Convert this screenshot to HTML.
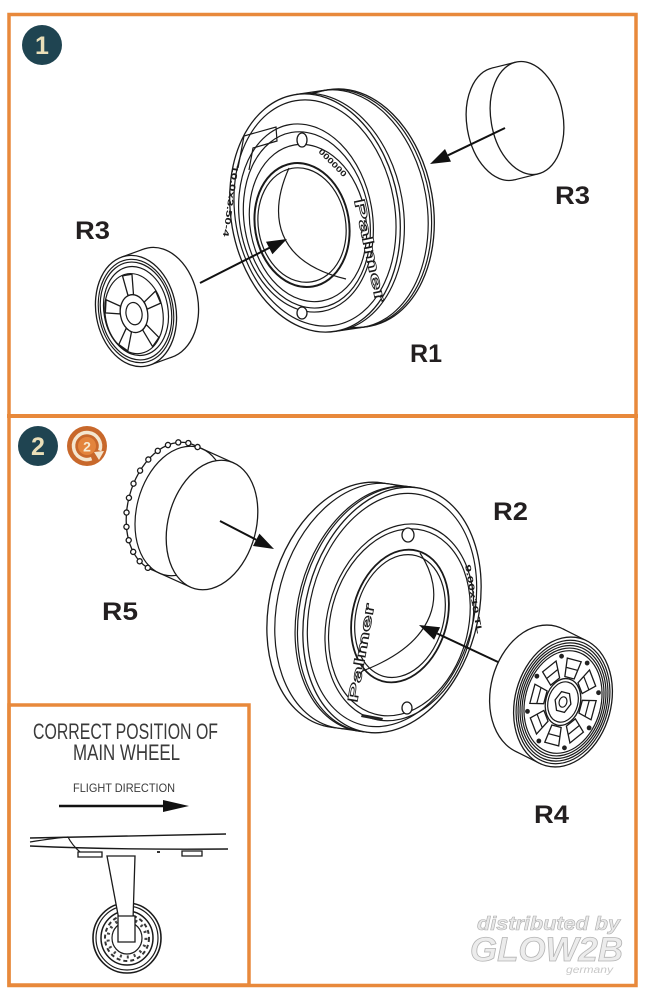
<!DOCTYPE html>
<html><head><meta charset="utf-8">
<style>
html,body{margin:0;padding:0;background:#fff;}
body{width:649px;height:1000px;overflow:hidden;}
svg{display:block;}
.l{fill:none;stroke:#1a1a1a;stroke-width:1.2;vector-effect:non-scaling-stroke}
.w{fill:#fff;stroke:#1a1a1a;stroke-width:1.3;vector-effect:non-scaling-stroke}
.h{fill:#fff;stroke:none}
.lb{font-family:"Liberation Sans",sans-serif;font-weight:bold;font-size:25px;fill:#231f20}
.t{font-family:"Liberation Sans",sans-serif;fill:#3a3a3a}
</style></head><body>
<svg width="649" height="1000" viewBox="0 0 649 1000" xmlns="http://www.w3.org/2000/svg">
<rect width="649" height="1000" fill="#fff"/>

<!-- ===== STEP 1 ===== -->
<circle cx="42" cy="45" r="20" fill="#1f4451"/>
<text x="42" y="54" text-anchor="middle" font-family="Liberation Sans,sans-serif" font-weight="bold" font-size="25" fill="#eadfb8">1</text>

<!-- R1 tire -->
<ellipse class="w" cx="349" cy="208" rx="84" ry="120" transform="rotate(-10 349 208)"/>
<polygon class="h" points="295.8,94.5 329.8,89.5 368.2,326.5 334.2,331.5"/>
<line class="l" x1="295.8" y1="94.5" x2="329.8" y2="89.5"/>
<line class="l" x1="334.2" y1="331.5" x2="368.2" y2="326.5"/>
<ellipse class="l" cx="342.9" cy="208.9" rx="84" ry="120" transform="rotate(-10 342.9 208.9)"/>
<ellipse class="l" cx="346.3" cy="208.4" rx="84" ry="120" transform="rotate(-10 346.3 208.4)"/>
<ellipse class="l" cx="319.1" cy="212.4" rx="84" ry="120" transform="rotate(-10 319.1 212.4)"/>
<ellipse class="w" cx="315" cy="213" rx="84" ry="120" transform="rotate(-10 315 213)"/>
<g transform="translate(315 213) rotate(-10) scale(84 120)">
<circle class="l" r="0.95"/>
<ellipse class="l" cx="-0.116" cy="0.028" rx="0.79" ry="0.79"/>
<ellipse class="l" cx="-0.11" cy="0.045" rx="0.745" ry="0.74"/>
<ellipse class="l" cx="-0.103" cy="0.072" rx="0.69" ry="0.66"/>
<ellipse class="l" cx="-0.177" cy="0.08" rx="0.56" ry="0.52" style="stroke-width:2"/>
<ellipse class="l" cx="-0.177" cy="0.08" rx="0.52" ry="0.48"/>
</g>
<path class="l" d="M289,168 C268,215 275,262 346,279"/>
<ellipse class="w" cx="302" cy="140" rx="5" ry="7"/>
<ellipse class="w" cx="302" cy="313" rx="5" ry="6"/>
<path class="l" d="M238,168 L244,136 L276,127 L277,141 L253,148 L249,170"/>
<text transform="translate(354 200) rotate(78)" font-family="Liberation Sans,sans-serif" font-weight="bold" font-size="15" fill="#fff" stroke="#1a1a1a" stroke-width="0.8" textLength="105" lengthAdjust="spacingAndGlyphs">Palmer</text>
<text transform="translate(233 165) rotate(98)" font-family="Liberation Sans,sans-serif" font-weight="bold" font-size="8" fill="#1a1a1a" textLength="72" lengthAdjust="spacingAndGlyphs">10.0x3.50-4</text>
<text transform="translate(318 152) rotate(45)" font-family="Liberation Sans,sans-serif" font-weight="bold" font-size="8" fill="#1a1a1a" textLength="36" lengthAdjust="spacingAndGlyphs">000000</text>

<!-- R3 left wheel -->
<ellipse class="w" cx="158" cy="303" rx="40" ry="56" transform="rotate(-10 158 303)"/>
<polygon class="h" points="121.4,257.2 143.4,249.2 172.6,356.8 150.6,364.8"/>
<line class="l" x1="121.4" y1="257.2" x2="143.4" y2="249.2"/>
<line class="l" x1="150.6" y1="364.8" x2="172.6" y2="356.8"/>
<ellipse class="w" cx="136" cy="311" rx="40" ry="56" transform="rotate(-10 136 311)"/>
<g transform="translate(136 311) rotate(-10) scale(40 56)">
<circle class="l" r="0.93"/><circle class="l" r="0.88"/><circle class="l" r="0.8"/>
<g transform="translate(-0.06 0.04)">
<circle class="l" r="0.72"/>
<polygon class="w" points="0.07,-0.34 0.12,-0.7 -0.12,-0.7 -0.07,-0.34"/>
<polygon class="w" points="0.07,-0.34 0.12,-0.7 -0.12,-0.7 -0.07,-0.34" transform="rotate(72)"/>
<polygon class="w" points="0.07,-0.34 0.12,-0.7 -0.12,-0.7 -0.07,-0.34" transform="rotate(144)"/>
<polygon class="w" points="0.07,-0.34 0.12,-0.7 -0.12,-0.7 -0.07,-0.34" transform="rotate(216)"/>
<polygon class="w" points="0.07,-0.34 0.12,-0.7 -0.12,-0.7 -0.07,-0.34" transform="rotate(288)"/>
<circle class="w" r="0.34"/><circle class="l" r="0.2"/>
</g></g>

<!-- R3 cap right -->
<ellipse class="w" cx="503" cy="124" rx="36" ry="57" transform="rotate(-10 503 124)"/>
<polygon class="h" points="515.5,62.2 491.5,68.2 514.5,179.8 538.5,173.8"/>
<line class="l" x1="515.5" y1="62.2" x2="491.5" y2="68.2"/>
<line class="l" x1="538.5" y1="173.8" x2="514.5" y2="179.8"/>
<ellipse class="w" cx="527" cy="118" rx="36" ry="57" transform="rotate(-10 527 118)"/>

<!-- arrows step 1 -->
<line x1="200" y1="283" x2="270" y2="247.5" stroke="#111" stroke-width="2"/>
<polygon points="287,239 272.4,254.2 266,241.8" fill="#111"/>
<line x1="505" y1="128" x2="448" y2="155.3" stroke="#111" stroke-width="2"/>
<polygon points="430,164 451,161.6 445,149" fill="#111"/>

<text class="lb" x="75" y="239" textLength="35" lengthAdjust="spacingAndGlyphs">R3</text>
<text class="lb" x="555" y="204" textLength="35" lengthAdjust="spacingAndGlyphs">R3</text>
<text class="lb" x="410" y="362" textLength="32" lengthAdjust="spacingAndGlyphs">R1</text>

<!-- ===== STEP 2 ===== -->
<circle cx="38" cy="446" r="20" fill="#1f4451"/>
<text x="38" y="455" text-anchor="middle" font-family="Liberation Sans,sans-serif" font-weight="bold" font-size="25" fill="#eadfb8">2</text>
<circle cx="87" cy="446" r="20" fill="#c8682b"/>
<path d="M91.6,458.7 A13.5,13.5 0 1 1 99.7,450.6" fill="none" stroke="#f4e6cf" stroke-width="3.5"/>
<polygon points="94,452 104,451 99,460" fill="#f4e6cf"/>
<circle cx="87" cy="446" r="9" fill="#e3843c"/>
<text x="87" y="451.5" text-anchor="middle" font-family="Liberation Sans,sans-serif" font-weight="bold" font-size="14" fill="#f6ead2">2</text>

<!-- R5 -->
<ellipse class="w" cx="172" cy="507" rx="44" ry="66" transform="rotate(15 172 507)"/>
<polygon class="h" points="233.6,462.9 193.6,444.9 150.4,569.1 190.4,587.1"/>
<line class="l" x1="233.6" y1="462.9" x2="193.6" y2="444.9"/>
<line class="l" x1="190.4" y1="587.1" x2="150.4" y2="569.1"/>
<ellipse class="l" cx="180.8" cy="511" rx="44" ry="66" transform="rotate(15 180.8 511)"/>
<g transform="translate(172 507) rotate(15) scale(44 66)">
<ellipse class="w" cx="-0.174" cy="0.985" rx="0.058" ry="0.039"/>
<ellipse class="w" cx="-0.391" cy="0.921" rx="0.058" ry="0.039"/>
<ellipse class="w" cx="-0.588" cy="0.809" rx="0.058" ry="0.039"/>
<ellipse class="w" cx="-0.755" cy="0.656" rx="0.058" ry="0.039"/>
<ellipse class="w" cx="-0.883" cy="0.469" rx="0.058" ry="0.039"/>
<ellipse class="w" cx="-0.966" cy="0.259" rx="0.058" ry="0.039"/>
<ellipse class="w" cx="-0.999" cy="0.035" rx="0.058" ry="0.039"/>
<ellipse class="w" cx="-0.982" cy="-0.191" rx="0.058" ry="0.039"/>
<ellipse class="w" cx="-0.914" cy="-0.407" rx="0.058" ry="0.039"/>
<ellipse class="w" cx="-0.799" cy="-0.602" rx="0.058" ry="0.039"/>
<ellipse class="w" cx="-0.643" cy="-0.766" rx="0.058" ry="0.039"/>
<ellipse class="w" cx="-0.454" cy="-0.891" rx="0.058" ry="0.039"/>
<ellipse class="w" cx="-0.242" cy="-0.970" rx="0.058" ry="0.039"/>
<ellipse class="w" cx="-0.017" cy="-1.000" rx="0.058" ry="0.039"/>
<ellipse class="w" cx="0.208" cy="-0.978" rx="0.058" ry="0.039"/>
</g>
<ellipse class="w" cx="212" cy="525" rx="44" ry="66" transform="rotate(15 212 525)"/>

<!-- R2 tire -->
<ellipse class="w" cx="356" cy="605" rx="86" ry="125" transform="rotate(15 356 605)"/>
<polygon class="h" points="417.1,487.8 381.1,482.8 330.9,727.2 366.9,732.2"/>
<line class="l" x1="417.1" y1="487.8" x2="381.1" y2="482.8"/>
<line class="l" x1="366.9" y1="732.2" x2="330.9" y2="727.2"/>
<ellipse class="l" cx="363.9" cy="606.1" rx="86" ry="125" transform="rotate(15 363.9 606.1)"/>
<ellipse class="l" cx="386.6" cy="609.2" rx="86" ry="125" transform="rotate(15 386.6 609.2)"/>
<ellipse class="l" cx="384.2" cy="609" rx="86" ry="125" transform="rotate(15 384.2 609)"/>
<ellipse class="w" cx="392" cy="610" rx="86" ry="125" transform="rotate(15 392 610)"/>
<g transform="translate(392 610) rotate(15) scale(86 125)">
<circle class="l" r="0.95"/>
<ellipse class="l" cx="0.12" cy="0.08" rx="0.84" ry="0.8"/>
<ellipse class="l" cx="0.12" cy="0.08" rx="0.8" ry="0.76"/>
<ellipse class="l" cx="0.108" cy="0.03" rx="0.55" ry="0.54" style="stroke-width:1.8"/>
<ellipse class="l" cx="0.108" cy="0.03" rx="0.51" ry="0.5"/>
</g>
<path class="l" d="M420,553 C446,592 440,642 360,672"/>
<ellipse class="w" cx="408" cy="535" rx="6" ry="7"/>
<ellipse class="w" cx="407" cy="708" rx="5" ry="6"/>
<text transform="translate(357 703) rotate(-80)" font-family="Liberation Sans,sans-serif" font-weight="bold" font-size="14" fill="#fff" stroke="#1a1a1a" stroke-width="0.8" textLength="100" lengthAdjust="spacingAndGlyphs">Palmer</text>
<text transform="translate(465 565) rotate(80)" font-family="Liberation Sans,sans-serif" font-weight="bold" font-size="8" fill="#1a1a1a" textLength="70" lengthAdjust="spacingAndGlyphs">9.00x10 TL</text>
<path d="M362,714 L383,718 L382,721 L361,717 Z" fill="#222"/>

<!-- R4 wheel -->
<ellipse class="w" cx="539" cy="690" rx="48" ry="66" transform="rotate(15 539 690)"/>
<polygon class="h" points="586.7,640.8 562.7,628.8 515.3,751.2 539.3,763.2"/>
<line class="l" x1="586.7" y1="640.8" x2="562.7" y2="628.8"/>
<line class="l" x1="539.3" y1="763.2" x2="515.3" y2="751.2"/>
<ellipse class="w" cx="563" cy="702" rx="48" ry="66" transform="rotate(15 563 702)"/>
<g transform="translate(563 702) rotate(15) scale(48 66)">
<circle class="l" r="0.95"/><circle class="l" r="0.91"/><circle class="l" r="0.87"/><circle class="l" r="0.83"/><circle class="l" r="0.79"/>
<g><polygon class="w" points="0.1,-0.38 0.15,-0.66 -0.15,-0.66 -0.1,-0.38"/><line class="l" x1="-0.12" y1="-0.52" x2="0.12" y2="-0.52"/></g>
<g transform="rotate(45)"><polygon class="w" points="0.1,-0.38 0.15,-0.66 -0.15,-0.66 -0.1,-0.38"/><line class="l" x1="-0.12" y1="-0.52" x2="0.12" y2="-0.52"/></g>
<g transform="rotate(90)"><polygon class="w" points="0.1,-0.38 0.15,-0.66 -0.15,-0.66 -0.1,-0.38"/><line class="l" x1="-0.12" y1="-0.52" x2="0.12" y2="-0.52"/></g>
<g transform="rotate(135)"><polygon class="w" points="0.1,-0.38 0.15,-0.66 -0.15,-0.66 -0.1,-0.38"/><line class="l" x1="-0.12" y1="-0.52" x2="0.12" y2="-0.52"/></g>
<g transform="rotate(180)"><polygon class="w" points="0.1,-0.38 0.15,-0.66 -0.15,-0.66 -0.1,-0.38"/><line class="l" x1="-0.12" y1="-0.52" x2="0.12" y2="-0.52"/></g>
<g transform="rotate(225)"><polygon class="w" points="0.1,-0.38 0.15,-0.66 -0.15,-0.66 -0.1,-0.38"/><line class="l" x1="-0.12" y1="-0.52" x2="0.12" y2="-0.52"/></g>
<g transform="rotate(270)"><polygon class="w" points="0.1,-0.38 0.15,-0.66 -0.15,-0.66 -0.1,-0.38"/><line class="l" x1="-0.12" y1="-0.52" x2="0.12" y2="-0.52"/></g>
<g transform="rotate(315)"><polygon class="w" points="0.1,-0.38 0.15,-0.66 -0.15,-0.66 -0.1,-0.38"/><line class="l" x1="-0.12" y1="-0.52" x2="0.12" y2="-0.52"/></g>
<ellipse cx="0.276" cy="-0.665" rx="0.05" ry="0.037" fill="#222"/>
<ellipse cx="0.665" cy="-0.276" rx="0.05" ry="0.037" fill="#222"/>
<ellipse cx="0.665" cy="0.276" rx="0.05" ry="0.037" fill="#222"/>
<ellipse cx="0.276" cy="0.665" rx="0.05" ry="0.037" fill="#222"/>
<ellipse cx="-0.276" cy="0.665" rx="0.05" ry="0.037" fill="#222"/>
<ellipse cx="-0.665" cy="0.276" rx="0.05" ry="0.037" fill="#222"/>
<ellipse cx="-0.665" cy="-0.276" rx="0.05" ry="0.037" fill="#222"/>
<ellipse cx="-0.276" cy="-0.665" rx="0.05" ry="0.037" fill="#222"/>
<circle class="w" r="0.36"/><circle class="l" r="0.31"/>
<polygon class="w" points="0.17,0 0.085,0.147 -0.085,0.147 -0.17,0 -0.085,-0.147 0.085,-0.147"/>
<circle class="l" r="0.08"/>
</g>

<!-- arrows step 2 -->
<line x1="220" y1="521" x2="256.2" y2="539.8" stroke="#111" stroke-width="2"/>
<polygon points="274,549 253,546 259.4,533.6" fill="#111"/>
<line x1="498" y1="662" x2="437.1" y2="633.5" stroke="#111" stroke-width="2"/>
<polygon points="419,625 440.1,627.2 434.1,639.8" fill="#111"/>

<text class="lb" x="493" y="520" textLength="35" lengthAdjust="spacingAndGlyphs">R2</text>
<text class="lb" x="102" y="620" textLength="36" lengthAdjust="spacingAndGlyphs">R5</text>
<text class="lb" x="534" y="823" textLength="35" lengthAdjust="spacingAndGlyphs">R4</text>

<!-- ===== INSET ===== -->
<text class="t" x="33" y="739" font-size="22" textLength="185" lengthAdjust="spacingAndGlyphs">CORRECT POSITION OF</text>
<text class="t" x="73" y="760" font-size="22" textLength="107" lengthAdjust="spacingAndGlyphs">MAIN WHEEL</text>
<text class="t" x="73" y="792" font-size="12" textLength="102" lengthAdjust="spacingAndGlyphs">FLIGHT DIRECTION</text>
<line x1="59" y1="806" x2="166" y2="806" stroke="#111" stroke-width="2.5"/>
<polygon points="163,800 189,806 163,812" fill="#111"/>

<path class="l" d="M30,838 L226,834" style="stroke-width:1.4"/>
<path class="l" d="M30,846 Q120,850 228,849" style="stroke-width:1.4"/>
<path class="l" d="M30,842 Q55,838 68,837 Q72,845 80,852"/>
<rect class="w" x="78" y="852" width="24" height="5"/>
<rect class="w" x="182" y="851" width="20" height="5"/>
<rect x="157" y="851" width="3" height="2" fill="#333"/>

<ellipse class="w" cx="127" cy="938" rx="34" ry="35" style="stroke-width:1.6"/>
<ellipse class="l" cx="127" cy="938" rx="31" ry="32"/>
<ellipse class="l" cx="127" cy="938" rx="26" ry="27" style="stroke-width:1.5"/>
<ellipse cx="127" cy="938" rx="22" ry="23" fill="none" stroke="#333" stroke-width="2" stroke-dasharray="4 3"/>
<ellipse class="l" cx="127" cy="938" rx="15" ry="16"/>
<ellipse cx="127" cy="938" rx="19" ry="19" fill="none" stroke="#444" stroke-width="3" stroke-dasharray="2 5"/>
<polygon class="w" points="107,856 135,856 133,920 119,920"/>
<rect class="w" x="118" y="916" width="17" height="26"/>

<!-- watermark -->
<text x="477" y="930" font-family="Liberation Sans,sans-serif" font-style="italic" font-weight="bold" font-size="19" fill="#e8e8e8" stroke="#b0b0b0" stroke-width="0.6" textLength="143" lengthAdjust="spacingAndGlyphs">distributed by</text>
<text x="470" y="961" font-family="Liberation Sans,sans-serif" font-style="italic" font-weight="bold" font-size="34" fill="#ececec" stroke="#b5b5b5" stroke-width="0.8" textLength="153" lengthAdjust="spacingAndGlyphs">GLOW2B</text>
<text x="566" y="973" font-family="Liberation Sans,sans-serif" font-style="italic" font-size="10" fill="#c8c8c8" textLength="47" lengthAdjust="spacingAndGlyphs">germany</text>

<!-- borders -->
<rect x="9" y="14.5" width="627" height="971" fill="none" stroke="#e8893b" stroke-width="3.5"/>
<line x1="7" y1="416" x2="638" y2="416" stroke="#e8893b" stroke-width="4"/>
<rect x="9" y="705" width="240" height="280" fill="none" stroke="#e8893b" stroke-width="3.5"/>
</svg>
</body></html>
